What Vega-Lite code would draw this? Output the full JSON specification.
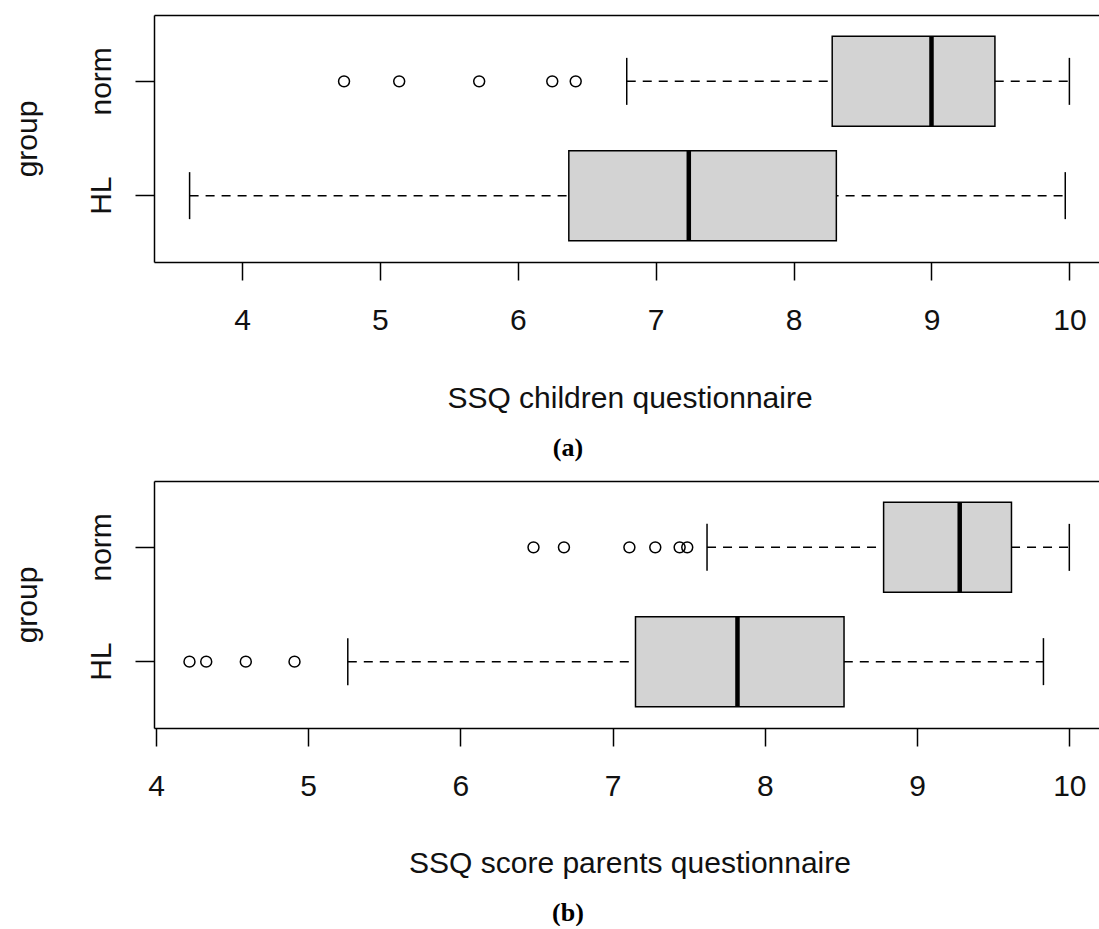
{
  "$schema": "https://vega.github.io/schema/vega-lite/v6.json",
  "background": "white",
  "padding": {"left": 12, "top": 15, "right": 0, "bottom": 0},
  "config": {
    "view": {"stroke": null},
    "font": "Liberation Sans",
    "concat": {"spacing": 20},
    "axis": {
      "grid": false,
      "domainColor": "black",
      "domainWidth": 1.5,
      "tickColor": "black",
      "tickWidth": 1.5,
      "labelFont": "Liberation Sans",
      "titleFont": "Liberation Sans",
      "labelFontSize": 30,
      "titleFontSize": 30,
      "titleFontWeight": "normal",
      "labelColor": "#111",
      "titleColor": "#111",
      "labelFlush": false,
      "labelOverlap": false
    }
  },
  "datasets": {
    "boxes": [
      {"panel": "a", "group": "norm", "lower": 6.79, "q1": 8.28, "median": 9.0, "q3": 9.46, "upper": 10.0},
      {"panel": "a", "group": "HL", "lower": 3.62, "q1": 6.37, "median": 7.24, "q3": 8.31, "upper": 9.97},
      {"panel": "b", "group": "norm", "lower": 7.62, "q1": 8.78, "median": 9.28, "q3": 9.62, "upper": 10.0},
      {"panel": "b", "group": "HL", "lower": 5.26, "q1": 7.15, "median": 7.82, "q3": 8.52, "upper": 9.83}
    ],
    "outliers": [
      {"panel": "a", "group": "norm", "value": 4.74},
      {"panel": "a", "group": "norm", "value": 5.14},
      {"panel": "a", "group": "norm", "value": 5.72},
      {"panel": "a", "group": "norm", "value": 6.25},
      {"panel": "a", "group": "norm", "value": 6.42},
      {"panel": "b", "group": "norm", "value": 6.48},
      {"panel": "b", "group": "norm", "value": 6.68},
      {"panel": "b", "group": "norm", "value": 7.11},
      {"panel": "b", "group": "norm", "value": 7.28},
      {"panel": "b", "group": "norm", "value": 7.44},
      {"panel": "b", "group": "norm", "value": 7.49},
      {"panel": "b", "group": "HL", "value": 4.22},
      {"panel": "b", "group": "HL", "value": 4.33},
      {"panel": "b", "group": "HL", "value": 4.59},
      {"panel": "b", "group": "HL", "value": 4.91}
    ]
  },
  "resolve": {"scale": {"x": "independent", "y": "independent"}},
  "vconcat": [
    {
      "width": 945,
      "height": 247,
      "title": {"text": "(a)", "orient": "bottom", "anchor": "start", "frame": "group", "align": "center", "dx": 414, "offset": 43, "baseline": "alphabetic", "font": "Liberation Serif", "fontWeight": "bold", "fontSize": 26, "color": "#000"},
      "layer": [
        {
          "data": {"name": "boxes"},
          "transform": [{"filter": "datum.panel == 'a'"}],
          "mark": {"type": "rule", "strokeDash": [9, 7], "strokeWidth": 1.5, "color": "black"},
          "encoding": {
            "x": {"field": "lower", "type": "quantitative", "scale": {"domain": [3.3619, 10.2147], "nice": false, "zero": false},
                  "axis": {"orient": "top", "title": null, "labels": false, "ticks": false}},
            "x2": {"field": "upper"},
            "y": {"field": "group", "type": "nominal", "sort": ["norm", "HL"], "scale": {"paddingInner": 0.2126, "paddingOuter": 0.187},
                  "axis": {"title": "group", "labelAngle": -90, "labelAlign": "center", "labelBaseline": "alphabetic", "labelPadding": 25, "tickSize": 19,
                           "titleAngle": -90, "titleX": -118, "titleY": 123.5, "titleAlign": "center", "titleBaseline": "alphabetic"}}
          }
        },
        {
          "data": {"name": "boxes"},
          "transform": [{"filter": "datum.panel == 'a'"}],
          "mark": {"type": "bar", "fill": "#d3d3d3", "stroke": "black", "strokeWidth": 1.5},
          "encoding": {
            "x": {"field": "q1", "type": "quantitative",
                  "axis": {"orient": "bottom", "title": "SSQ children questionnaire", "values": [4, 5, 6, 7, 8, 9, 10], "tickSize": 18, "labelPadding": 49, "labelBaseline": "alphabetic",
                           "titleX": 475.5, "titleY": 145, "titleAlign": "center", "titleBaseline": "alphabetic"}},
            "x2": {"field": "q3"},
            "y": {"field": "group", "type": "nominal", "sort": ["norm", "HL"]}
          }
        },
        {
          "data": {"name": "boxes"},
          "transform": [{"filter": "datum.panel == 'a'"}],
          "mark": {"type": "tick", "color": "black", "size": 90, "thickness": 4.5, "opacity": 1},
          "encoding": {
            "x": {"field": "median", "type": "quantitative", "axis": null},
            "y": {"field": "group", "type": "nominal", "sort": ["norm", "HL"]}
          }
        },
        {
          "data": {"name": "boxes"},
          "transform": [{"filter": "datum.panel == 'a'"}],
          "mark": {"type": "tick", "color": "black", "size": 47, "thickness": 1.5, "opacity": 1},
          "encoding": {
            "x": {"field": "lower", "type": "quantitative", "axis": null},
            "y": {"field": "group", "type": "nominal", "sort": ["norm", "HL"]}
          }
        },
        {
          "data": {"name": "boxes"},
          "transform": [{"filter": "datum.panel == 'a'"}],
          "mark": {"type": "tick", "color": "black", "size": 47, "thickness": 1.5, "opacity": 1},
          "encoding": {
            "x": {"field": "upper", "type": "quantitative", "axis": null},
            "y": {"field": "group", "type": "nominal", "sort": ["norm", "HL"]}
          }
        },
        {
          "data": {"name": "outliers"},
          "transform": [{"filter": "datum.panel == 'a'"}],
          "mark": {"type": "point", "shape": "circle", "filled": false, "stroke": "black", "strokeWidth": 1.5, "size": 120, "opacity": 1},
          "encoding": {
            "x": {"field": "value", "type": "quantitative", "axis": null},
            "y": {"field": "group", "type": "nominal", "sort": ["norm", "HL"]}
          }
        }
      ]
    },
    {
      "width": 945,
      "height": 247,
      "title": {"text": "(b)", "orient": "bottom", "anchor": "start", "frame": "group", "align": "center", "dx": 414, "offset": 43, "baseline": "alphabetic", "font": "Liberation Serif", "fontWeight": "bold", "fontSize": 26, "color": "#000"},
      "layer": [
        {
          "data": {"name": "boxes"},
          "transform": [{"filter": "datum.panel == 'b'"}],
          "mark": {"type": "rule", "strokeDash": [9, 7], "strokeWidth": 1.5, "color": "black"},
          "encoding": {
            "x": {"field": "lower", "type": "quantitative", "scale": {"domain": [3.9869, 10.195], "nice": false, "zero": false},
                  "axis": {"orient": "top", "title": null, "labels": false, "ticks": false}},
            "x2": {"field": "upper"},
            "y": {"field": "group", "type": "nominal", "sort": ["norm", "HL"], "scale": {"paddingInner": 0.2126, "paddingOuter": 0.187},
                  "axis": {"title": "group", "labelAngle": -90, "labelAlign": "center", "labelBaseline": "alphabetic", "labelPadding": 25, "tickSize": 19,
                           "titleAngle": -90, "titleX": -118, "titleY": 123.5, "titleAlign": "center", "titleBaseline": "alphabetic"}}
          }
        },
        {
          "data": {"name": "boxes"},
          "transform": [{"filter": "datum.panel == 'b'"}],
          "mark": {"type": "bar", "fill": "#d3d3d3", "stroke": "black", "strokeWidth": 1.5},
          "encoding": {
            "x": {"field": "q1", "type": "quantitative",
                  "axis": {"orient": "bottom", "title": "SSQ score parents questionnaire", "values": [4, 5, 6, 7, 8, 9, 10], "tickSize": 18, "labelPadding": 49, "labelBaseline": "alphabetic",
                           "titleX": 475.5, "titleY": 144, "titleAlign": "center", "titleBaseline": "alphabetic"}},
            "x2": {"field": "q3"},
            "y": {"field": "group", "type": "nominal", "sort": ["norm", "HL"]}
          }
        },
        {
          "data": {"name": "boxes"},
          "transform": [{"filter": "datum.panel == 'b'"}],
          "mark": {"type": "tick", "color": "black", "size": 90, "thickness": 4.5, "opacity": 1},
          "encoding": {
            "x": {"field": "median", "type": "quantitative", "axis": null},
            "y": {"field": "group", "type": "nominal", "sort": ["norm", "HL"]}
          }
        },
        {
          "data": {"name": "boxes"},
          "transform": [{"filter": "datum.panel == 'b'"}],
          "mark": {"type": "tick", "color": "black", "size": 47, "thickness": 1.5, "opacity": 1},
          "encoding": {
            "x": {"field": "lower", "type": "quantitative", "axis": null},
            "y": {"field": "group", "type": "nominal", "sort": ["norm", "HL"]}
          }
        },
        {
          "data": {"name": "boxes"},
          "transform": [{"filter": "datum.panel == 'b'"}],
          "mark": {"type": "tick", "color": "black", "size": 47, "thickness": 1.5, "opacity": 1},
          "encoding": {
            "x": {"field": "upper", "type": "quantitative", "axis": null},
            "y": {"field": "group", "type": "nominal", "sort": ["norm", "HL"]}
          }
        },
        {
          "data": {"name": "outliers"},
          "transform": [{"filter": "datum.panel == 'b'"}],
          "mark": {"type": "point", "shape": "circle", "filled": false, "stroke": "black", "strokeWidth": 1.5, "size": 120, "opacity": 1},
          "encoding": {
            "x": {"field": "value", "type": "quantitative", "axis": null},
            "y": {"field": "group", "type": "nominal", "sort": ["norm", "HL"]}
          }
        }
      ]
    }
  ]
}
